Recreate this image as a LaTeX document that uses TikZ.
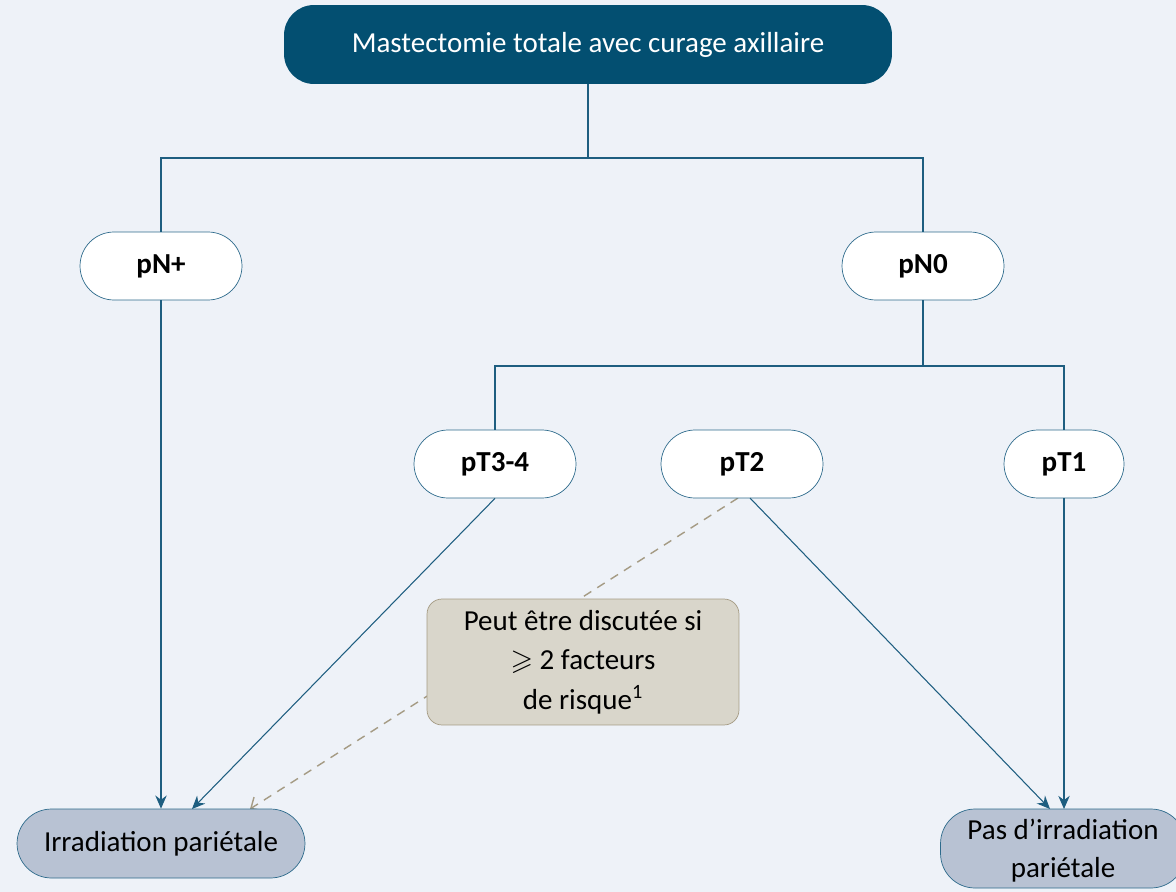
\documentclass[tikz,border=0pt]{standalone}
\usepackage{fontspec}
\usepackage{amssymb}
\setmainfont{Carlito}
\usetikzlibrary{arrows.meta}

\definecolor{fondbleu}{HTML}{EEF2F8}
\definecolor{bleunuit}{HTML}{034F71}
\definecolor{bordbleu}{HTML}{2E6B8C}
\definecolor{traitbleu}{HTML}{1E5E80}
\definecolor{gristaupe}{HTML}{D9D6CB}
\definecolor{bordtaupe}{HTML}{A59B84}
\definecolor{bleugris}{HTML}{B8C2D3}

\begin{document}
\begin{tikzpicture}[x=0.02cm, y=-0.02cm,
    every node/.style={font=\fontsize{16.5}{21.5}\selectfont, align=center, inner sep=0pt},
    titre/.style={fill=bleunuit, text=white, rounded corners=0.6cm,
        minimum width=12.16cm, minimum height=1.58cm},
    choix/.style={draw=bordbleu, fill=white, rounded corners=0.68cm, font=\fontsize{16.5}{21.5}\selectfont\bfseries,
        minimum width=3.24cm, minimum height=1.36cm},
    issue/.style={draw=bordbleu, fill=bleugris, rounded corners=0.69cm,
        minimum height=1.38cm},
    remarque/.style={draw=bordtaupe, fill=gristaupe, rounded corners=0.3cm,
        minimum width=6.24cm, minimum height=2.52cm, font=\fontsize{16.5}{22.5}\selectfont},
    lien/.style={draw=traitbleu, line width=0.6pt},
    fleche/.style={lien, -{Stealth[length=7.5pt, width=6.5pt]}},
    pointille/.style={draw=bordtaupe, line width=0.8pt, dash pattern=on 5pt off 4pt,
        -{Straight Barb[length=5pt, width=9pt]}}]
        \fill[fondbleu] (0,0) rectangle (1176,892);
        \useasboundingbox (0,0) rectangle (1176,892);

        % the dashed line runs behind the note
        \coordinate (dep) at (738,498);
        \coordinate (arr) at (250,809);
        \draw[pointille] (dep) -- (arr);

        \node[titre] (mastec) at (588,44.5) {Mastectomie totale avec curage axillaire};
        \node[choix] (pnplus) at (161,266) {pN+};
        \node[choix] (pnzero) at (923,266) {pN0};
        \node[choix] (pttrois) at (495,464) {pT3-4};
        \node[choix] (ptdeux) at (742,464) {pT2};
        \node[choix, minimum width=2.4cm] (ptun) at (1064,464) {pT1};
        \node[remarque] (note) at (583,662) {Peut être discutée si\\$\geqslant$ 2 facteurs\\de risque\textsuperscript{1}};
        \node[issue, minimum width=5.76cm] (irrad) at (161,843.5) {Irradiation pariétale};
        \node[issue, minimum width=4.9cm, minimum height=1.58cm, text depth=0pt] (pasirrad) at (1063,848.5) {Pas d'irradiation\\pariétale};

        % arbre
        \draw[lien] (mastec.south) -- (588,158) -| (pnplus.north);
        \draw[lien] (588,158) -| (pnzero.north);
        \draw[lien] (pnzero.south) -- (923,366) -| (pttrois.north);
        \draw[lien] (923,366) -| (ptun.north);

        % fleches vers les issues
        \draw[fleche] (pnplus.south) -- (irrad.north);
        \draw[fleche] (pttrois.south) -- (192,809);
        \draw[fleche] (750,498) -- (1050,809);
        \draw[fleche] (ptun.south) -- (1064,809);
    \end{tikzpicture}
\end{document}
